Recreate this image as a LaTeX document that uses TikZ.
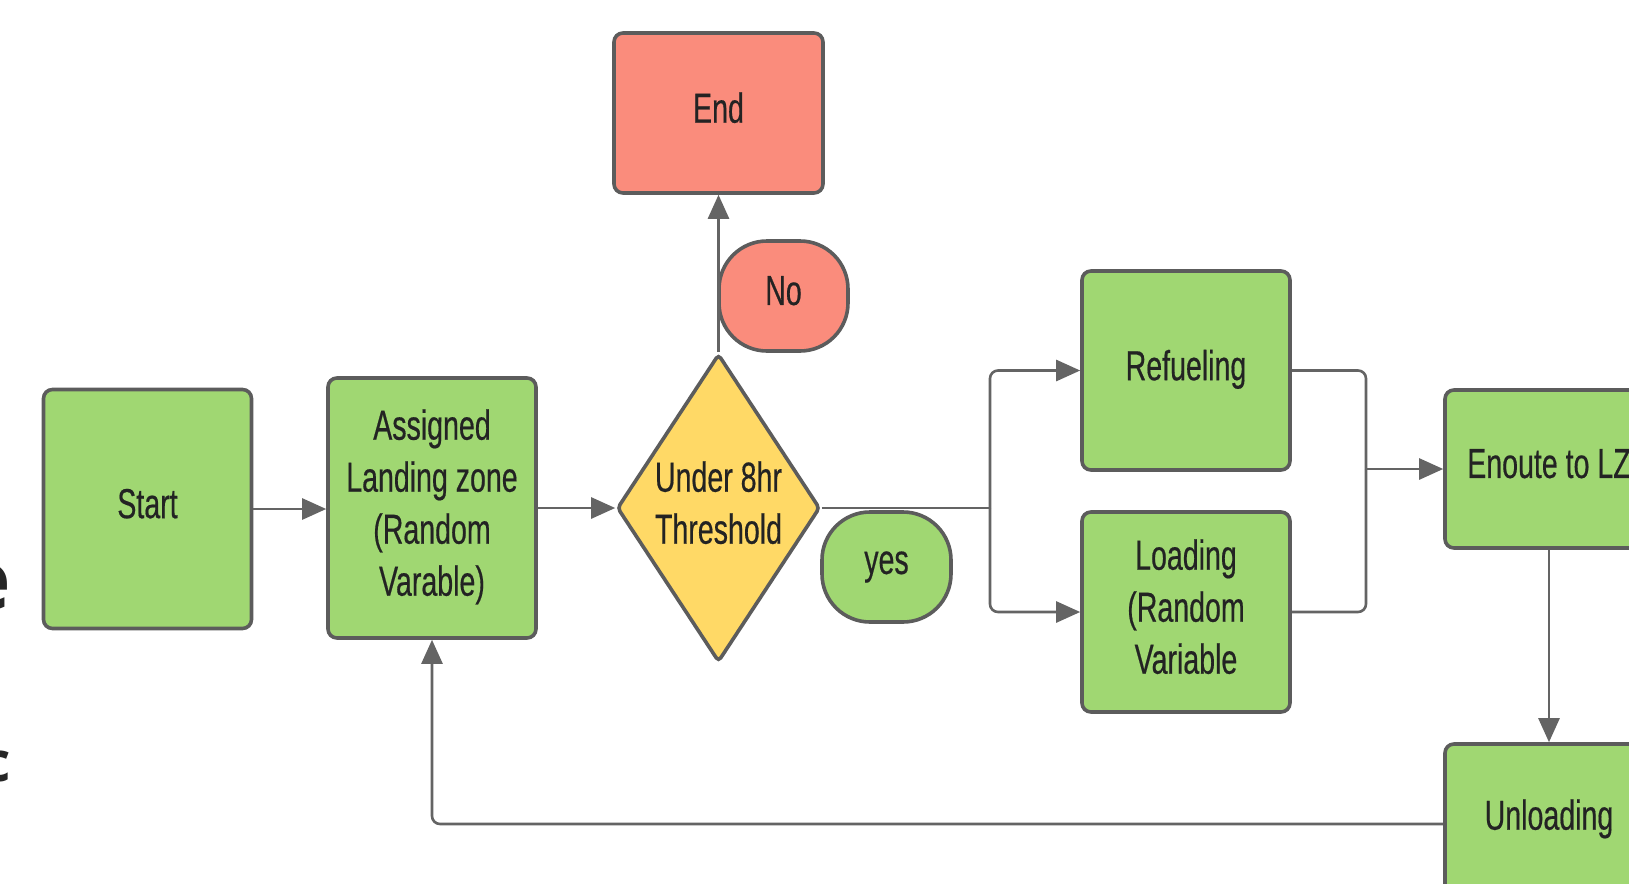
\documentclass[tikz,border=0pt]{standalone}
\usepackage{fontspec}
\setmainfont{Liberation Sans}[FakeStretch=0.68, FakeBold=0.4]
\newfontfamily\slidefont{Open Sans}
\usetikzlibrary{shapes.geometric, arrows.meta}

\definecolor{boxgreen}{HTML}{A0D772}
\definecolor{boxred}{HTML}{FA8C7C}
\definecolor{boxyellow}{HTML}{FFD966}
\definecolor{edgegray}{HTML}{5C5C5C}
\definecolor{linkgray}{HTML}{646464}
\definecolor{ink}{HTML}{232323}
\definecolor{slideink}{HTML}{262626}

\begin{document}
\begin{tikzpicture}[x=0.5pt, y=-0.5pt,
  base/.style={draw=edgegray, line width=1.8pt, rounded corners=4.5pt,
    align=center, text=ink, font=\fontsize{21}{26}\selectfont, inner sep=2pt},
  lift/.style={text depth=5.5pt},
  greenbox/.style={base, lift, fill=boxgreen, minimum width=104pt},
  redbox/.style={base, lift, fill=boxred},
  pill/.style={base, rounded corners=24pt, minimum width=64.5pt, minimum height=55pt},
  decision/.style={base, lift, diamond, fill=boxyellow, aspect=0.66, inner sep=0pt,
    minimum width=101.5pt, minimum height=154pt, rounded corners=2pt},
  link/.style={draw=linkgray, line width=1.3pt, rounded corners=4pt},
  flow/.style={link, -{Triangle[length=12pt, width=10.5pt]}},
  fragment/.style={anchor=base east, inner sep=0pt, text=slideink},
]
% page area
\fill[white] (0,0) rectangle (1629,884);
\useasboundingbox (0,0) rectangle (1629,884);

% slide text cut off at the left edge
\node[fragment, font=\slidefont\bfseries\fontsize{41}{41}\selectfont] (fraga) at (11,609) {e};
\node[fragment, font=\slidefont\bfseries\fontsize{27.5}{27.5}\selectfont] (fragb) at (11,781) {c};

% process steps
\node[greenbox, minimum height=119.5pt] (start) at (147.5,509) {Start};
\node[greenbox, minimum height=130pt] (assigned) at (432,508) {Assigned\\Landing zone\\(Random\\Varable)};
\node[decision] (check) at (718.5,508) {Under 8hr\\Threshold};
\node[redbox, minimum width=104.5pt, minimum height=80pt] (finish) at (718.5,113) {End};
\node[pill, lift, fill=boxred] (no) at (783.5,296) {No};
\node[pill, fill=boxgreen] (yes) at (886.5,567) {yes};
\node[greenbox, minimum height=99.5pt] (refuel) at (1186,370.5) {Refueling};
\node[greenbox, minimum height=100pt] (load) at (1186,612) {Loading\\(Random\\Variable};
\node[greenbox, minimum height=79pt] (enroute) at (1549,469) {Enoute to LZ};
\node[greenbox, minimum height=76pt] (unload) at (1549,820) {Unloading};

% junctions of the parallel branch
\coordinate (split) at (990,508);
\coordinate (merge) at (1366,469);

% connectors
\draw[flow] (start.east) -- (start.east -| assigned.west);
\draw[flow] (assigned.east) -- (check.west);
\draw[flow] (check.north) -- (finish.south);
\draw[link] (check.east) -- (split);
\draw[flow] (split) |- (refuel.west);
\draw[flow] (split) |- (load.west);
\draw[link] (refuel.east) -| (merge);
\draw[link] (load.east) -| (merge);
\draw[flow] (merge) -- (enroute.west);
\draw[flow] (enroute.south) -- (unload.north);
\draw[flow] ([yshift=-2pt]unload.west) -| (assigned.south);
\end{tikzpicture}
\end{document}
